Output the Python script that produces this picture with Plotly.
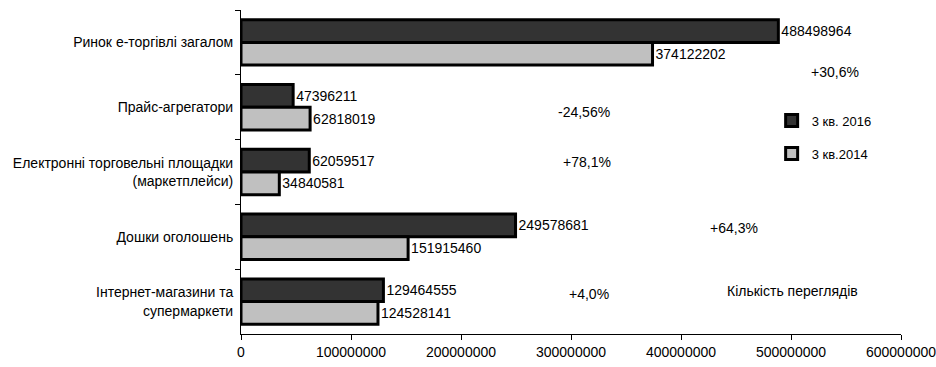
import plotly.graph_objects as go

categories = ["Ринок е-торгівлі загалом", "Прайс-агрегатори",
              "Електронні торговельні площадки<br>(маркетплейси)",
              "Дошки оголошень", "Інтернет-магазини та<br>супермаркети"]
q3_2016 = [488498964, 47396211, 62059517, 249578681, 129464555]
q3_2014 = [374122202, 62818019, 34840581, 151915460, 124528141]
growth_labels = ["+30,6%", "-24,56%", "+78,1%", "+64,3%", "+4,0%"]
growth_x = [540000000, 312000000, 314500000, 448000000, 316000000]
growth_y = [0.46, 1.08, 1.85, 2.86, 3.88]
tick_vals = [0, 100000000, 200000000, 300000000, 400000000, 500000000, 600000000]

FONT = "Liberation Sans, Arial"

fig = go.Figure()
fig.add_trace(go.Bar(
    y=categories, x=q3_2016, orientation="h", name="3 кв. 2016",
    marker=dict(color="#333333", line=dict(color="#000000", width=3)),
    text=[str(v) for v in q3_2016], textposition="outside",
    textfont=dict(size=14, color="#000000", family=FONT),
    cliponaxis=False, legendgroup="a"))
fig.add_trace(go.Bar(
    y=categories, x=q3_2014, orientation="h", name="3 кв.2014",
    marker=dict(color="#c0c0c0", line=dict(color="#000000", width=3)),
    text=[str(v) for v in q3_2014], textposition="outside",
    textfont=dict(size=14, color="#000000", family=FONT),
    cliponaxis=False, legendgroup="b"))

for lab, gx, gy in zip(growth_labels, growth_x, growth_y):
    fig.add_annotation(x=gx, y=gy, xref="x", yref="y", text=lab,
                       showarrow=False, font=dict(size=14, color="#000000", family=FONT))
fig.add_annotation(x=501000000, y=3.84, xref="x", yref="y", text="Кількість переглядів",
                   showarrow=False, font=dict(size=14, color="#000000", family=FONT))

fig.update_layout(
    width=936, height=367,
    margin=dict(l=241, r=35, t=10, b=33),
    paper_bgcolor="white", plot_bgcolor="white",
    barmode="group", bargap=0.3, bargroupgap=0,
    font=dict(family=FONT, size=14, color="#000000"),
    showlegend=True,
    legend=dict(x=0.804, y=0.705, xanchor="left", yanchor="top",
                traceorder="grouped", tracegroupgap=13,
                font=dict(size=13, family=FONT), bgcolor="rgba(0,0,0,0)"),
    xaxis=dict(range=[0, 600000000], tickvals=tick_vals,
               ticktext=[str(v) for v in tick_vals], automargin=False,
               ticklabeloverflow="allow",
               showgrid=False, zeroline=False, showline=True, linecolor="#000000",
               linewidth=1, ticks="outside", ticklen=5, tickcolor="#000000",
               tickfont=dict(size=14, family=FONT)),
    yaxis=dict(autorange="reversed", showgrid=False, showline=True, linecolor="#000000",
               linewidth=1, ticks="outside", ticklen=5, tickcolor="#000000",
               tickson="boundaries", ticklabelstandoff=4, automargin=False,
               tickfont=dict(size=14, family=FONT)),
)

fig.write_html("out.html")
